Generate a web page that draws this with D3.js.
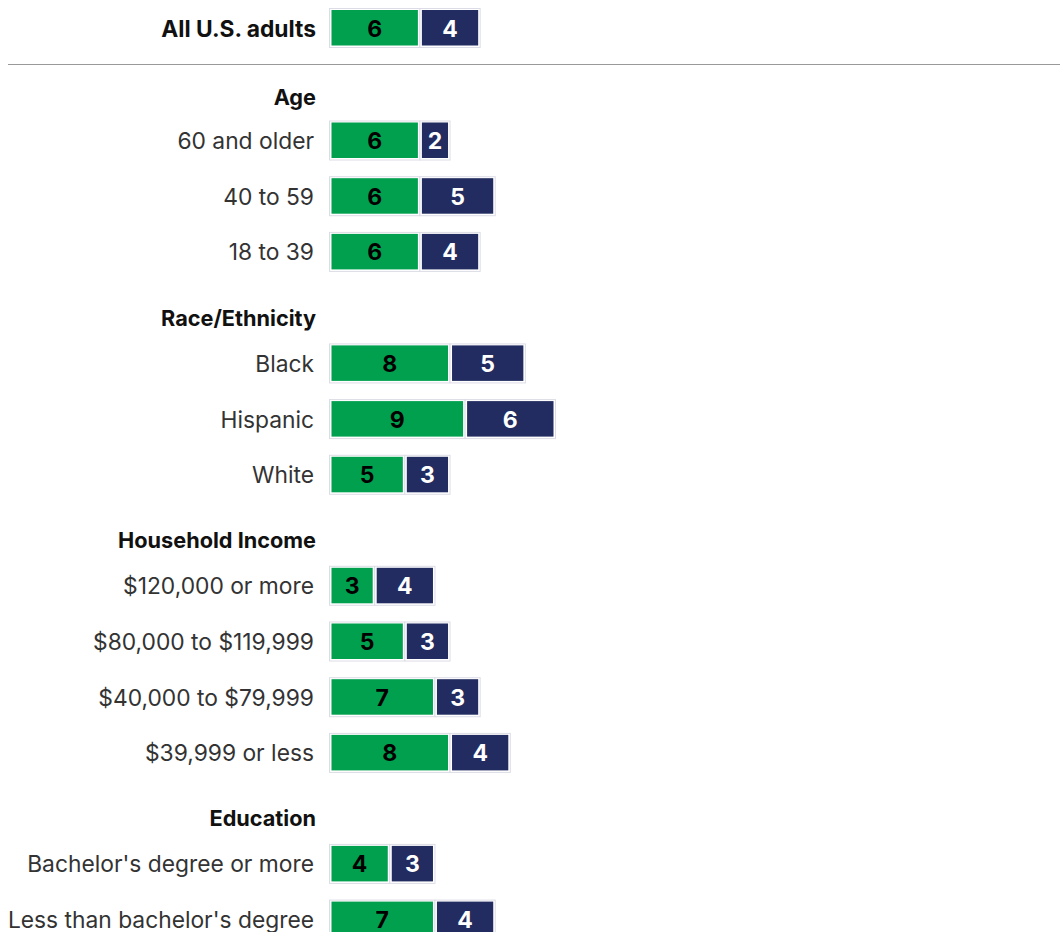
<!DOCTYPE html>
<html>
<head>
<meta charset="utf-8">
<script src="https://cdn.jsdelivr.net/npm/d3@7"></script>
<style>
  html, body { margin: 0; padding: 0; background: #fff; }
  svg { display: block; font-family: Inter, "Noto Sans", sans-serif; }
</style>
</head>
<body>
<svg id="chart" width="1060" height="932"></svg>
<script>
// Groups and their rows, in drawing order
const groups = ["", "Age", "Race/Ethnicity", "Household Income", "Education"];
const categories = [
  ["All U.S. adults"],
  ["60 and older", "40 to 59", "18 to 39"],
  ["Black", "Hispanic", "White"],
  ["$120,000 or more", "$80,000 to $119,999", "$40,000 to $79,999", "$39,999 or less"],
  ["Bachelor's degree or more", "Less than bachelor's degree"]
];
// Two stacked series per row
const seriesA = [
  [6],
  [6, 6, 6],
  [8, 9, 5],
  [3, 5, 7, 8],
  [4, 7]
];
const seriesB = [
  [4],
  [2, 5, 4],
  [5, 6, 3],
  [4, 3, 3, 4],
  [3, 4]
];
const colors = ["#00A04F", "#222C60"];
const labelColors = ["#000", "#fff"];

const svg = d3.select("#chart");
const x = d3.scaleLinear().domain([0, 15]).range([329.5, 555.5]);

// Vertical layout: header lines and data rows
const headerGap = [0, 43.5, 45.5, 46, 46];
const groupGap = [0, 69, 66, 65, 65];
const rowStep = 55.7;
const items = [];
let y = 28;
groups.forEach((g, gi) => {
  y += groupGap[gi];
  if (g) {
    items.push({ type: "header", label: g, y });
    y += headerGap[gi];
  }
  categories[gi].forEach((c, ci) => {
    if (ci > 0) y += rowStep;
    items.push({ type: "row", label: c, y, a: seriesA[gi][ci], b: seriesB[gi][ci], bold: gi === 0 });
  });
});

// Separator below the overall row
svg.append("line")
  .attr("x1", 8).attr("x2", 1060).attr("y1", 64.5).attr("y2", 64.5)
  .attr("stroke", "#999").attr("stroke-width", 1.2);

const barH = 39;

items.forEach(d => {
  if (d.type === "header") {
    svg.append("text")
      .attr("x", 316).attr("y", d.y)
      .attr("text-anchor", "end").attr("dominant-baseline", "central")
      .attr("font-size", 21.7).attr("font-weight", 700).attr("fill", "#111")
      .text(d.label);
    return;
  }
  svg.append("text")
    .attr("x", d.bold ? 316 : 314).attr("y", d.y)
    .attr("text-anchor", "end").attr("dominant-baseline", "central")
    .attr("font-size", d.bold ? 22.8 : 22.8).attr("font-weight", d.bold ? 700 : 400)
    .attr("fill", d.bold ? "#111" : "#333")
    .text(d.label);

  const segs = [[0, d.a], [d.a, d.a + d.b]];
  const g = svg.append("g");
  segs.forEach((s, i) => {
    const x0 = x(s[0]), x1 = x(s[1]);
    // outer light frame
    g.append("rect")
      .attr("x", x0).attr("y", d.y - barH / 2)
      .attr("width", x1 - x0).attr("height", barH)
      .attr("fill", "#fff").attr("stroke", "#dcdce6").attr("stroke-width", 1);
    // coloured fill inset
    g.append("rect")
      .attr("x", x0 + 2).attr("y", d.y - barH / 2 + 1.5)
      .attr("width", x1 - x0 - 4).attr("height", barH - 3.5)
      .attr("fill", colors[i]);
    g.append("text")
      .attr("x", (x0 + x1) / 2).attr("y", d.y + 0.5)
      .attr("text-anchor", "middle").attr("dominant-baseline", "central")
      .attr("font-size", 23).attr("font-weight", 700)
      .attr("fill", labelColors[i])
      .text(s[1] - s[0]);
  });
});
</script>
</body>
</html>
